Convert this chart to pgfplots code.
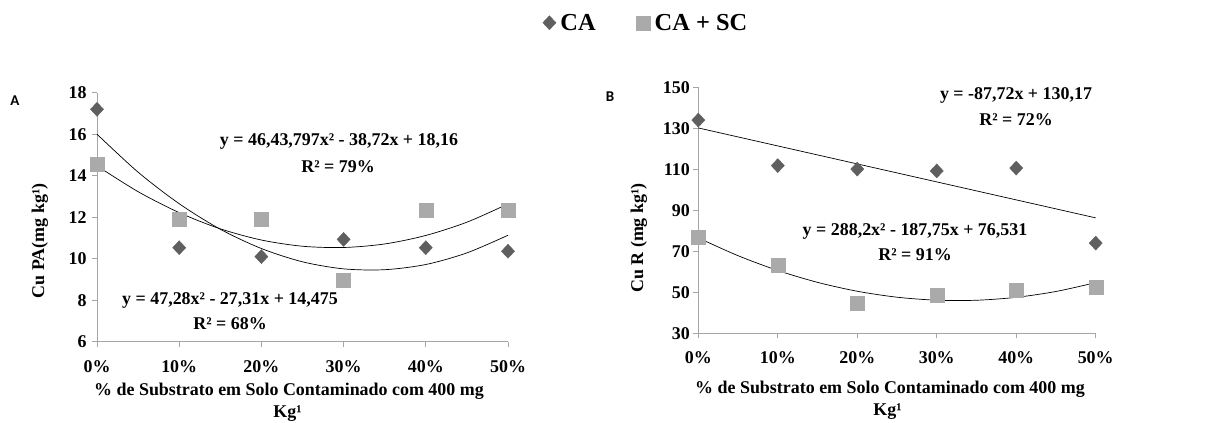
\documentclass[border=0pt]{standalone}
\usepackage{fontspec}
\setmainfont{Liberation Serif}
\newfontfamily\calibri{Carlito}
\usepackage{pgfplots}
\pgfplotsset{compat=1.18}
\definecolor{cadark}{RGB}{95,95,95}
\definecolor{calight}{RGB}{170,170,170}
\definecolor{axgray}{RGB}{165,165,165}
\pgfplotsset{
  common/.style={
    anchor=south west, scale only axis,
    xmin=0, xmax=50,
    xtick={0,10,20,30,40,50},
    xticklabels={0\%,10\%,20\%,30\%,40\%,50\%},
    axis lines*=left,
    axis line style={axgray, line width=1bp},
    tick style={axgray, line width=1bp},
    tick align=outside, major tick length=5bp,
    ticklabel style={font=\fontsize{18}{20}\selectfont\bfseries},
    xticklabel style={yshift=-10bp},
    /pgf/number format/assume math mode=true,
    clip=false,
  },
  markca/.style={only marks, mark=diamond*, mark size=7bp, color=cadark, mark options={fill=cadark, draw=cadark, xscale=1.25}},
  marksc/.style={only marks, mark=square*, mark size=7bp, color=calight, mark options={fill=calight, draw=calight}},
  trend/.style={black, line width=0.7bp, smooth, no marks, forget plot},
}
\begin{document}
\begin{tikzpicture}
\useasboundingbox (0bp,0bp) rectangle (1221bp,423bp);
% Panel A
\begin{axis}[common, at={(97bp,81.3bp)}, width=411bp, height=249bp,
  ymin=6, ymax=18, ytick={6,8,10,12,14,16,18},
  yticklabel style={xshift=-2bp},
  legend style={at={(1.339,1.281)}, anchor=center, draw=none, fill=none,
    legend columns=2, font=\fontsize{24.5}{26}\selectfont\bfseries,
    /tikz/every even column/.append style={column sep=36bp},
    inner sep=0pt, nodes={inner xsep=4.5bp, inner ysep=0pt}, legend cell align=left},
]
\addplot[markca] coordinates {(0,17.2) (10,10.53) (20,10.1) (30,10.93) (40,10.53) (50,10.36)};
\addlegendentry{CA}
\addplot[marksc] coordinates {(0,14.55) (10,11.9) (20,11.9) (30,8.97) (40,12.33) (50,12.33)};
\addlegendentry{CA + SC}
\addplot[trend] coordinates {(0,16.00) (5,14.17) (10,12.65) (15,11.42) (20,10.49) (25,9.85) (30,9.51) (35,9.47) (40,9.72) (45,10.28) (50,11.13)};
\addplot[trend] coordinates {(0,14.475) (5,13.23) (10,12.22) (15,11.44) (20,10.90) (25,10.60) (30,10.54) (35,10.71) (40,11.12) (45,11.76) (50,12.64)};
\end{axis}
% Panel B
\begin{axis}[common, at={(698.3bp,89.7bp)}, width=397.4bp, height=246bp,
  ymin=30, ymax=150, ytick={30,50,70,90,110,130,150},
]
\addplot[markca] coordinates {(0,134.0) (10,111.8) (20,110.1) (30,109.2) (40,110.6) (50,74.0)};
\addplot[marksc] coordinates {(0,77.1) (10,63.3) (20,44.6) (30,48.8) (40,50.8) (50,52.7)};
\addplot[trend] coordinates {(0,130.17) (50,86.31)};
\addplot[trend] coordinates {(0,76.53) (5,67.86) (10,60.64) (15,54.85) (20,50.51) (25,47.61) (30,46.14) (35,46.12) (40,47.54) (45,50.40) (50,54.71)};
\end{axis}
% texts
\begin{scope}[x=1bp,y=1bp,every node/.style={font=\fontsize{18}{20}\selectfont\bfseries, inner sep=0pt}]
\node[rotate=90] at (40,182.2) {Cu PA(mg kg¹)};
\node[rotate=90] at (639,185) {Cu R (mg kg¹)};
\node at (289,31.3) {\% de Substrato em Solo Contaminado com 400 mg};
\node at (287.5,9) {Kg¹};
\node at (890,34) {\% de Substrato em Solo Contaminado com 400 mg};
\node at (887.5,11.3) {Kg¹};
\node at (339,281.3) {y = 46,43,797x² - 38,72x + 18,16};
\node at (338,256.3) {R² = 79\%};
\node at (230,123) {y = 47,28x² - 27,31x + 14,475};
\node at (230,99) {R² = 68\%};
\node at (1016,328) {y = -87,72x + 130,17};
\node at (1016,303) {R² = 72\%};
\node at (915,191.3) {y = 288,2x² - 187,75x + 76,531};
\node at (915,168) {R² = 91\%};
\node[font=\calibri\fontsize{15}{17}\selectfont\bfseries] at (15,322.3) {A};
\node[font=\calibri\fontsize{15}{17}\selectfont\bfseries] at (610,326.3) {B};
\end{scope}
\end{tikzpicture}
\end{document}
